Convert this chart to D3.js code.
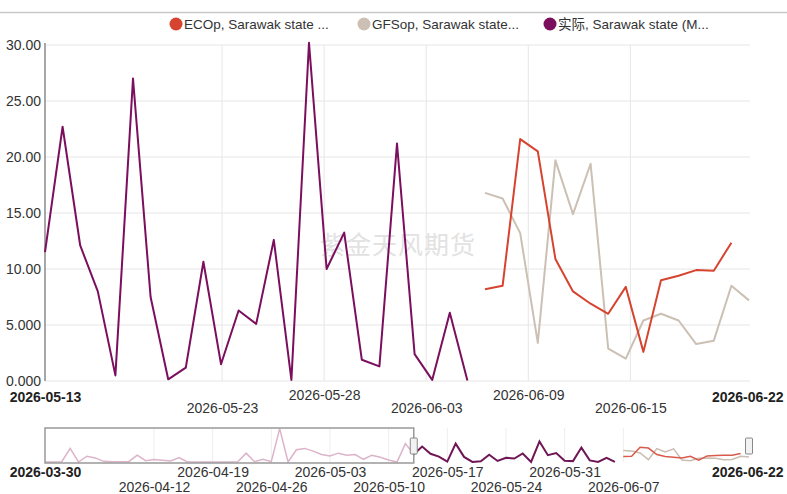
<!DOCTYPE html>
<html><head><meta charset="utf-8">
<script src="https://cdn.jsdelivr.net/npm/d3@7"></script>
<style>
body{margin:0;background:#fff;}
svg text{font-family:"Liberation Sans",Arial,sans-serif;}
</style>
</head><body>
<svg id="c" width="787" height="494"></svg>
<script>
// ---------- data ----------
const startActual = "2026-05-13";
const actual = [11.5,22.7,12.1,8.0,0.5,27.0,7.5,0.15,1.2,10.65,1.5,6.3,5.1,12.6,0.1,30.2,10.0,13.25,1.9,1.3,21.2,2.4,0.1,6.1,0.05];
const startForecast = "2026-06-07";
const ecop = [8.2,8.5,21.6,20.5,10.9,8.0,6.9,6.0,8.4,2.6,9.0,9.4,9.9,9.85,12.35];
const gfsop = [16.8,16.3,13.2,3.4,19.7,14.9,19.4,2.9,2.0,5.4,6.0,5.4,3.3,3.6,8.5,7.2];
const startHistory = "2026-03-30";
const history = [0,0,0.5,20,0,8.5,6,1,0.3,0.3,0.5,10,2,3.5,2.5,1.5,6.5,0,0,0,0,0,0,0.5,13,0.5,4,0.5,49,0,18,20,16,11,9,13,10,11,4,10,7,3,0,27];
const yTicks = [0,5,10,15,20,25,30];
const xTicks = ["2026-05-23T01:26","2026-05-28T20:38","2026-06-03T15:50","2026-06-09T11:02","2026-06-15T06:14"];
const xEdges = ["2026-05-13T00:00","2026-06-22T00:00"];
const navTicks = ["2026-04-12","2026-04-19","2026-04-26","2026-05-03","2026-05-10","2026-05-17","2026-05-24","2026-05-31","2026-06-07"];
const navEdges = ["2026-03-30","2026-06-22"];
const seriesNames = ["ECOp, Sarawak state ...","GFSop, Sarawak state...","实际, Sarawak state (M..."];
const seriesColors = ["#d6432f","#cbc0b3","#7b0f5e"];
const watermark = "紫金天风期货";

// ---------- helpers ----------
const pd = d3.timeParse("%Y-%m-%d");
const pdt = d3.timeParse("%Y-%m-%dT%H:%M");
const fmt = d3.timeFormat("%Y-%m-%d");
const toSeries = (start, vals) => vals.map((v,i)=>({date:d3.timeDay.offset(pd(start),i), v}));
const sActual = toSeries(startActual, actual);
const sEcop = toSeries(startForecast, ecop);
const sGfs = toSeries(startForecast, gfsop);
const sHist = toSeries(startHistory, history);
const sFull = sHist.concat(sActual);

const svg = d3.select("#c");
const L = 45, R = 749, T = 45, B = 381;

const x = d3.scaleTime().domain([pdt(xEdges[0]), pdt(xEdges[1])]).range([L, R]);
const y = d3.scaleLinear().domain([0, 30]).range([B, T]);

// top rule
svg.append("line").attr("x1",0).attr("x2",787).attr("y1",12.5).attr("y2",12.5)
  .attr("stroke","#c8c8c8").attr("stroke-width",1.5);

// horizontal grid
svg.append("g").selectAll("line").data(yTicks).join("line")
  .attr("x1",L).attr("x2",R+1).attr("y1",d=>y(d)).attr("y2",d=>y(d))
  .attr("stroke","#e6e6e6").attr("stroke-width",1);
// vertical grid
svg.append("g").selectAll("line").data(xTicks.map(pdt)).join("line")
  .attr("x1",d=>x(d)).attr("x2",d=>x(d)).attr("y1",T).attr("y2",B)
  .attr("stroke","#e6e6e6").attr("stroke-width",1);

// watermark
svg.append("text").attr("x",398).attr("y",254).attr("text-anchor","middle")
  .attr("font-size",25).attr("letter-spacing",1).attr("fill","#e2e2e2")
  .style("font-family","'Noto Sans CJK SC',sans-serif").text(watermark);

// y axis
const yAxis = svg.append("g").attr("transform",`translate(${L},0)`)
  .call(d3.axisLeft(y).tickValues(yTicks).tickSize(0).tickPadding(4)
    .tickFormat(d=> d>=10 ? d.toFixed(2) : d.toFixed(3)));
yAxis.select(".domain").attr("stroke","#8a8a8a").attr("stroke-width",1.5).attr("d",`M0,${B}V${T-2}`);
yAxis.selectAll("text").attr("font-size",14).attr("fill","#333").attr("dy","0.3em")
  .style("font-family","'Liberation Sans',Arial,sans-serif");

// x axis labels
const xAxis = svg.append("g").attr("transform",`translate(0,${B})`)
  .call(d3.axisBottom(x).tickValues(xTicks.map(pdt)).tickSize(0).tickFormat(fmt));
xAxis.select(".domain").remove();
xAxis.selectAll("text").attr("font-size",14).attr("fill","#333")
  .attr("y",(d,i)=> i%2===0 ? 32 : 19).attr("dy",0)
  .style("font-family","'Liberation Sans',Arial,sans-serif");
const xEdge = svg.append("g").attr("transform",`translate(0,${B})`)
  .call(d3.axisBottom(x).tickValues(xEdges.map(pdt)).tickSize(0).tickFormat(fmt));
xEdge.select(".domain").remove();
xEdge.selectAll("text").attr("font-size",14).attr("font-weight","bold").attr("fill","#222")
  .attr("y",20.5).attr("dy",0).attr("text-anchor",(d,i)=> i===0?"middle":"end")
  .attr("dx",(d,i)=> i===0?0:34)
  .style("font-family","'Liberation Sans',Arial,sans-serif");

// lines
const line = d3.line().x(d=>x(d.date)).y(d=>y(d.v));
const plot = [[sGfs,1],[sEcop,0],[sActual,2]];
plot.forEach(([s,ci])=>{
  svg.append("path").datum(s).attr("d",line).attr("fill","none")
    .attr("stroke",seriesColors[ci]).attr("stroke-width",2).attr("stroke-linejoin","round");
});

// legend
const legX = [176, 364, 550];
const lg = svg.append("g");
seriesNames.forEach((n,i)=>{
  lg.append("circle").attr("cx",legX[i]).attr("cy",24).attr("r",6.5).attr("fill",seriesColors[i]);
  lg.append("text").attr("x",legX[i]+8).attr("y",29).attr("font-size",13.5).attr("fill","#333")
    .style("font-family","'Liberation Sans','Noto Sans CJK SC',Arial,sans-serif").text(n);
});

// ---------- navigator ----------
const NT = 428, NB = 462;
const nx = d3.scaleTime().domain([pd(navEdges[0]), pd(navEdges[1])]).range([L, R]);
const ny = d3.scaleLinear().domain([0, 50]).range([NB, NT]);
const selX = nx(pd(startActual));

svg.append("g").selectAll("line").data(navTicks.map(pd)).join("line")
  .attr("x1",d=>nx(d)).attr("x2",d=>nx(d)).attr("y1",NT).attr("y2",NB)
  .attr("stroke","#eeeeee").attr("stroke-width",1);

const defs = svg.append("defs");
defs.append("clipPath").attr("id","clipL").append("rect").attr("x",0).attr("y",NT-5).attr("width",selX).attr("height",50);
defs.append("clipPath").attr("id","clipR").append("rect").attr("x",selX).attr("y",NT-15).attr("width",787-selX).attr("height",60);

const nline = d3.line().x(d=>nx(d.date)).y(d=>ny(d.v));
svg.append("path").datum(sFull).attr("d",nline).attr("fill","none").attr("clip-path","url(#clipL)")
  .attr("stroke","#dcb3c9").attr("stroke-width",1.5);
svg.append("path").datum(sGfs).attr("d",nline).attr("fill","none")
  .attr("stroke","#c9beb1").attr("stroke-width",1.5);
svg.append("path").datum(sEcop).attr("d",nline).attr("fill","none")
  .attr("stroke","#d95a4a").attr("stroke-width",1.5);
svg.append("path").datum(sFull).attr("d",nline).attr("fill","none").attr("clip-path","url(#clipR)")
  .attr("stroke","#6e1656").attr("stroke-width",2);

// unselected mask outline
svg.append("rect").attr("x",L).attr("y",NT).attr("width",selX-L).attr("height",NB-NT+1)
  .attr("fill","none").attr("stroke","#999").attr("stroke-width",1.5);
// handles
[selX, nx(pd(navEdges[1]))].forEach(hx=>{
  svg.append("rect").attr("x",hx-3.5).attr("y",438).attr("width",7).attr("height",16).attr("rx",1)
    .attr("fill","#f2f2f2").attr("stroke","#888").attr("stroke-width",1);
});

// nav labels
const nAxis = svg.append("g").attr("transform",`translate(0,${NB})`)
  .call(d3.axisBottom(nx).tickValues(navTicks.map(pd)).tickSize(0).tickFormat(fmt));
nAxis.select(".domain").remove();
nAxis.selectAll("text").attr("font-size",14).attr("fill","#333")
  .attr("y",(d,i)=> i%2===0 ? 30 : 15).attr("dy",0)
  .style("font-family","'Liberation Sans',Arial,sans-serif");
const nEdge = svg.append("g").attr("transform",`translate(0,${NB})`)
  .call(d3.axisBottom(nx).tickValues(navEdges.map(pd)).tickSize(0).tickFormat(fmt));
nEdge.select(".domain").remove();
nEdge.selectAll("text").attr("font-size",14).attr("font-weight","bold").attr("fill","#222")
  .attr("y",15).attr("dy",0).attr("text-anchor",(d,i)=> i===0?"middle":"end")
  .attr("dx",(d,i)=> i===0?0:34)
  .style("font-family","'Liberation Sans',Arial,sans-serif");
</script>
</body></html>
